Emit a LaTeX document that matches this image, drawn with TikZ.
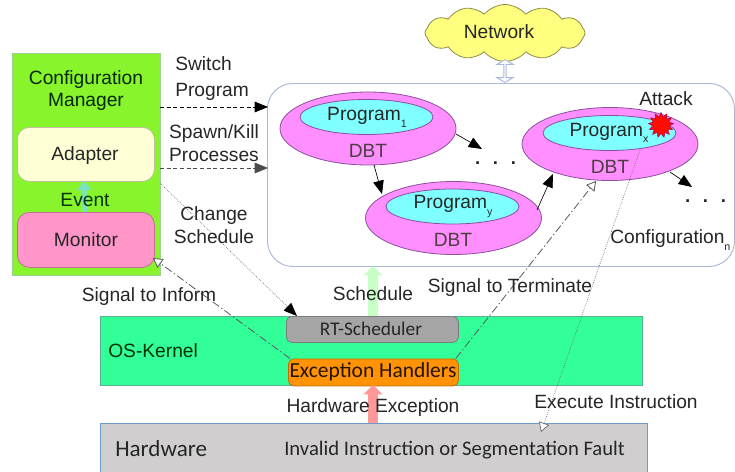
\documentclass[tikz,border=0pt]{standalone}
\usepackage{fontspec}
\setmainfont{Liberation Sans}
\newfontfamily\calfont{Carlito}
\usetikzlibrary{arrows.meta,shapes.symbols,shapes.arrows,shapes.misc,shapes.geometric,positioning}
\definecolor{inktext}{HTML}{262626}
\definecolor{edgeblue}{HTML}{A9B8D6}
\newcommand{\subtxt}[1]{\raisebox{-5pt}{\fontsize{8}{9}\selectfont #1}}
\tikzset{
  x=0.75pt,y=-0.75pt,
  wh/.style 2 args={minimum width=#1*0.75pt,minimum height=#2*0.75pt,inner sep=0pt},
  lbl/.style={font=\fontsize{14.4}{17}\selectfont,text=inktext,align=center,inner sep=0pt},
  cal/.style={font=\calfont\fontsize{14.5}{17}\selectfont,text=inktext,inner sep=0pt},
  rbox/.style={draw=#1!75!black,line width=0.6pt,rounded corners=9pt},
  dbt/.style={ellipse,fill=dbtpink,draw=dbtedge,line width=0.6pt,wh={176}{73}},
  prog/.style={ellipse,fill=progcyan,draw=dbtedge,line width=0.6pt,wh={133}{35}},
  thin arrow/.style={-{Triangle[length=10pt,width=8pt]},black,line width=0.5pt},
  dash arrow/.style={-{Triangle[length=10pt,width=8pt]},black,line width=0.6pt,densely dashed},
  dot arrow/.style={line width=0.5pt,draw=black!60,densely dotted},
  dashdot arrow/.style={line width=0.6pt,draw=black!65,dash pattern=on 6pt off 2pt on 1pt off 2pt},
  open tip/.style={-{Triangle[open,length=7pt,width=8pt,fill=white]}},
}
\definecolor{dbtpink}{HTML}{FF8FFF}
\definecolor{dbtedge}{HTML}{8A4F9E}
\definecolor{progcyan}{HTML}{7FFFFF}
\definecolor{cmgreen}{HTML}{88F52C}
\definecolor{adaptbg}{HTML}{FFFFD6}
\definecolor{monpink}{HTML}{FF95C8}
\definecolor{kgreen}{HTML}{33FF99}
\definecolor{hwgrey}{HTML}{D0CECE}
\definecolor{rtgrey}{HTML}{A5A5A5}
\definecolor{exorange}{HTML}{FF9305}
\definecolor{cloudy}{HTML}{FFFF7F}
\definecolor{hwedge}{HTML}{6C9BD2}
\begin{document}
\begin{tikzpicture}
\useasboundingbox (0,0) rectangle (735,471);
\clip (0,0) rectangle (735,471);

% big configuration frame
\node[draw=edgeblue,line width=0.7pt,rounded corners=19pt,wh={467}{183},anchor=north west,fill=white] (frame) at (267,83) {};

% network
\node[cloud,cloud puffs=12,cloud puff arc=100,aspect=2.9,fill=cloudy,draw=black!45!cloudy,line width=0.6pt,wh={160}{57}] (net) at (505,33) {};
\node[lbl] (nettext) at (499,32) {Network};
\node[double arrow,double arrow head extend=2pt,double arrow tip angle=120,shape border rotate=90,draw=edgeblue,fill=white,line width=0.7pt,minimum height=17pt,minimum width=12pt,inner sep=0pt] (netlink) at (505,71) {};

% configuration manager
\node[fill=cmgreen,draw=edgeblue!60!cmgreen,line width=0.6pt,wh={148}{222},anchor=north west] (cm) at (12,53) {};
\node[lbl,text=black!85!green] (cmtext) at (86,90.5) {Configuration\\Manager};
\node[rbox=adaptbg,fill=adaptbg,wh={137}{54},anchor=north west] (adapter) at (17,127) {};
\node[lbl] at (85,156) {Adapter};
\node[rbox=monpink,fill=monpink,wh={137}{55},anchor=north west] (monitor) at (17,212) {};
\node[lbl] at (86,240) {Monitor};
\draw[-{Triangle[length=7pt,width=11pt]},line width=3.5pt,draw=teal!35!kgreen!60!white] (monitor.north) ++(-1,0) coordinate (mup) -- (84,181) coordinate (adown);
\node[lbl,text=black!80!green] at (85,199.5) {Event};

% DBT / programs
\node[dbt] (d1) at (368,128.5) {};
\node[prog] (p1) at (366.5,117) {};
\node[lbl] at (367,117.5) {Program\subtxt{1}};
\node[lbl,text=black!80!magenta] at (368,151) {DBT};

\node[dbt] (dy) at (453.5,218) {};
\node[prog] (py) at (452.5,206.5) {};
\node[lbl] at (453,206.5) {Program\subtxt{y}};
\node[lbl,text=black!80!magenta] at (453,240) {DBT};

\node[dbt] (dx) at (610,144) {};
\node[prog] (px) at (609.5,133) {};
\node[star,star points=13,star point ratio=1.5,fill=red!90!orange,draw=red!60!blue,line width=0.3pt,minimum size=19pt,inner sep=0pt] (burst) at (661,125) {};
\node[lbl] at (609,133) {Program\subtxt{x}};
\node[lbl,text=black!80!magenta] at (610,167) {DBT};
\node[lbl] (attack) at (666,99) {Attack};

\coordinate (dot1) at (482,149);
\coordinate (dot2) at (692,187);
\draw[thin arrow] (456,134) coordinate (d1r) -- (dot1);
\draw[thin arrow] (374,165) coordinate (d1b) -- (382,194) coordinate (dyt);
\draw[thin arrow] (537,210) coordinate (dyr) -- (553,174) coordinate (dxl);
\draw[thin arrow] (670,172) coordinate (dxr) -- (dot2);

\node[lbl,font=\fontsize{14}{17}\selectfont\bfseries] at (495.5,163) {.\hspace{9.5pt}.\hspace{9.5pt}.};
\node[lbl,font=\fontsize{14}{17}\selectfont\bfseries] at (705.5,201) {.\hspace{9.5pt}.\hspace{9.5pt}.};
\node[lbl,anchor=west] at (610,240) {Configuration\subtxt{n}};

% kernel and hardware
\node[fill=kgreen,draw=edgeblue!50!kgreen!80!black,line width=0.7pt,wh={542}{69},anchor=north west] (kernel) at (100,316) {};
\node[lbl,anchor=west,text=black!80!green] at (108,351) {OS-Kernel};
\node[rbox=rtgrey,fill=rtgrey,rounded corners=4pt,wh={172}{26},anchor=north west] (rt) at (286,316) {};
\node[cal] at (371,329) {RT-Scheduler};
\node[rbox=exorange,fill=exorange,rounded corners=4pt,wh={170}{27},anchor=north west] (ex) at (288,358.5) {};
\node[cal,font=\calfont\fontsize{16.1}{17}\selectfont,text=black!85!orange] at (373,372) {Exception Handlers};
\node[fill=hwgrey,draw=hwedge,line width=0.7pt,wh={547}{60},anchor=north west] (hw) at (100,423) {};
\node[cal,font=\calfont\fontsize{17.3}{19}\selectfont,anchor=west] at (115,449) {Hardware};
\node[cal,font=\calfont\fontsize{15.5}{17}\selectfont,anchor=west] at (284,450) {Invalid Instruction or Segmentation Fault};

% block arrows
\draw[-{Triangle[length=7pt,width=14pt]},line width=7pt,draw=green!22!white] (373,316) coordinate (rtup) -- (373,266) coordinate (framebot);
\draw[-{Triangle[length=7pt,width=14pt]},line width=7pt,draw=red!40!white] (373,423) coordinate (hwtop) -- (373,385) coordinate (exbot);

% connectors from the manager
\draw[dash arrow] (160,107) coordinate (s1) -- (268,107) coordinate (t1);
\draw[dash arrow,draw=black!70] (160,168) coordinate (s2) -- (268,168) coordinate (t2);
\draw[dot arrow,-{Triangle[length=10pt,width=8pt,black]}] (160,183) coordinate (s3) -- (297,316) coordinate (t3);
\draw[dashdot arrow,open tip] (ex.north west) ++(2,0) coordinate (s4) -- (153,258) coordinate (t4);
\draw[dashdot arrow,open tip] (ex.north east) ++(-3,0) coordinate (s5) -- (596,181) coordinate (t5);
\draw[dot arrow,open tip] (640,150) coordinate (s6) -- (541,432) coordinate (t6);

% labels
\node[lbl,anchor=west] at (175,64) {Switch};
\node[lbl,anchor=west] at (175,92) {Program};
\node[lbl] at (214,134) {Spawn/Kill};
\node[lbl] at (214,155) {Processes};
\node[lbl] at (214,216) {Change};
\node[lbl] at (214,237) {Schedule};
\node[lbl] at (149,297) {Signal to Inform};
\node[lbl] at (373,294) {Schedule};
\node[lbl] at (510,288) {Signal to Terminate};
\node[lbl] at (373,408) {Hardware Exception};
\node[lbl] at (616,402) {Execute Instruction};
\end{tikzpicture}
\end{document}
